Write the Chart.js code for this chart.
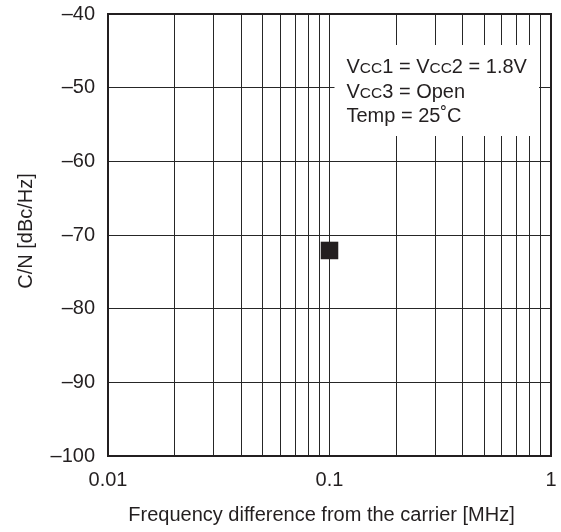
<!DOCTYPE html>
<html>
<head>
<meta charset="utf-8">
<script src="https://cdn.jsdelivr.net/npm/chart.js@4.4.1/dist/chart.umd.min.js"></script>
<style>
html,body{margin:0;padding:0;background:#fff;}
#wrap{width:561px;height:532px;}
</style>
</head>
<body>
<div id="wrap"><canvas id="c" width="561" height="532"></canvas></div>
<script>
// ---- data ----
const freqMHz = [0.1];
const cnValues = [-72.1];
const xGridValues = [0.01,0.02,0.03,0.04,0.05,0.06,0.07,0.08,0.09,0.1,0.2,0.3,0.4,0.5,0.6,0.7,0.8,0.9,1];
const xLabelValues = [0.01, 0.1, 1];
const xLabelTexts = ['0.01', '0.1', '1'];
const yTickValues = [-100,-90,-80,-70,-60,-50,-40];
const xTitle = 'Frequency difference from the carrier [MHz]';
const yTitle = 'C/N [dBc/Hz]';
const noteLines = [
  [['V',false],['CC',true],['1 = ',false],['V',false],['CC',true],['2 = 1.8V',false]],
  [['V',false],['CC',true],['3 = Open',false]],
  [['Temp = 25˚C',false]]
];

const INK = '#231f20';
const FONT = '"Liberation Sans", Arial, Helvetica, sans-serif';

const notePlugin = {
  id: 'note',
  beforeDatasetsDraw(chart) {
    const ctx = chart.ctx;
    const x = chart.scales.x;
    const left = x.getPixelForValue(0.1) + 5;
    const right = chart.chartArea.right - 12;
    const top = chart.chartArea.top + 31;
    const bottom = chart.chartArea.top + 122;
    ctx.save();
    ctx.fillStyle = '#fff';
    ctx.fillRect(left, top, right - left, bottom - top);
    ctx.fillStyle = INK;
    ctx.textBaseline = 'alphabetic';
    ctx.textAlign = 'left';
    let by = chart.chartArea.top + 59;
    noteLines.forEach(line => {
      let tx = left + 12;
      line.forEach(([t, small]) => {
        ctx.font = (small ? '15.5px ' : '20px ') + FONT;
        ctx.fillText(t, tx, by);
        tx += ctx.measureText(t).width;
      });
      by += 24.5;
    });
    ctx.restore();
  },
  afterDraw(chart) {
    const {left, right, top, bottom} = chart.chartArea;
    const ctx = chart.ctx;
    ctx.save();
    ctx.strokeStyle = INK;
    ctx.lineWidth = 2;
    ctx.strokeRect(left, top, right - left, bottom - top);
    // axis titles
    ctx.fillStyle = INK;
    ctx.font = '20px ' + FONT;
    ctx.textAlign = 'center';
    ctx.textBaseline = 'alphabetic';
    ctx.fillText(xTitle, (left + right) / 2 - 8, 521);
    ctx.translate(31.5, (top + bottom) / 2 - 4);
    ctx.rotate(-Math.PI / 2);
    ctx.fillText(yTitle, 0, 0);
    ctx.restore();
  }
};

const chart = new Chart(document.getElementById('c'), {
  type: 'scatter',
  data: {
    datasets: [{
      data: freqMHz.map((f, i) => ({x: f, y: cnValues[i]})),
      pointStyle: 'rect',
      pointRadius: 12.4,
      pointHoverRadius: 12.4,
      backgroundColor: INK,
      borderWidth: 0
    }]
  },
  options: {
    responsive: false,
    animation: false,
    devicePixelRatio: 1,
    layout: {autoPadding: false, padding: {top: 14, right: 10, left: 0, bottom: 0}},
    plugins: {legend: {display: false}, tooltip: {enabled: false}},
    scales: {
      x: {
        type: 'logarithmic',
        min: 0.01,
        max: 1,
        afterFit(s) { s.height = 76; s.paddingLeft = 0; s.paddingRight = 0; },
        afterBuildTicks(s) { s.ticks = xGridValues.map(v => ({value: v})); },
        grid: {color: '#262626', lineWidth: 1, drawTicks: false},
        border: {display: false},
        ticks: {
          autoSkip: false,
          maxRotation: 0,
          padding: 12,
          color: INK,
          font: {family: FONT, size: 20},
          callback(v) {
            const i = xLabelValues.findIndex(l => Math.abs(l - v) < 1e-9);
            return i >= 0 ? xLabelTexts[i] : '';
          }
        }
      },
      y: {
        min: -100,
        max: -40,
        afterFit(s) { s.width = 108; s.paddingTop = 0; s.paddingBottom = 0; },
        afterBuildTicks(s) { s.ticks = yTickValues.map(v => ({value: v})); },
        grid: {color: '#262626', lineWidth: 1, drawTicks: false},
        border: {display: false},
        ticks: {
          padding: 13,
          color: INK,
          font: {family: FONT, size: 20},
          callback(v) { return v < 0 ? '\u2013' + Math.abs(v) : String(v); }
        }
      }
    }
  },
  plugins: [notePlugin]
});
</script>
</body>
</html>
